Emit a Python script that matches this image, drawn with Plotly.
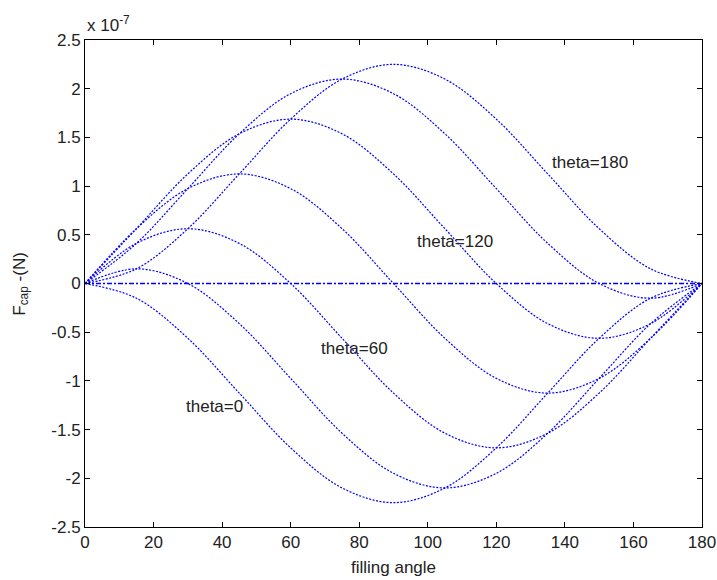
import plotly.graph_objects as go

phi = [0, 15, 30, 45, 60, 75, 90, 105, 120, 135, 150, 165, 180]

# F_cap values (units of 1e-7 N)
f_theta0   = [0, -0.151, -0.5625, -1.125, -1.6875, -2.099, -2.25, -2.099, -1.6875, -1.125, -0.5625, -0.151, 0]
f_theta30  = [0, 0.151, 0, -0.412, -0.974, -1.537, -1.949, -2.099, -1.949, -1.537, -0.974, -0.412, 0]
f_theta60  = [0, 0.412, 0.5625, 0.412, 0, -0.5625, -1.125, -1.537, -1.6875, -1.537, -1.125, -0.5625, 0]
f_theta90  = [0, 0.5625, 0.974, 1.125, 0.974, 0.5625, 0, -0.5625, -0.974, -1.125, -0.974, -0.5625, 0]
f_theta120 = [0, 0.5625, 1.125, 1.537, 1.6875, 1.537, 1.125, 0.5625, 0, -0.412, -0.5625, -0.412, 0]
f_theta150 = [0, 0.412, 0.974, 1.537, 1.949, 2.099, 1.949, 1.537, 0.974, 0.412, 0, -0.151, 0]
f_theta180 = [0, 0.151, 0.5625, 1.125, 1.6875, 2.099, 2.25, 2.099, 1.6875, 1.125, 0.5625, 0.151, 0]
f_zero     = [0] * 13

series = [f_theta0, f_theta30, f_theta60, f_theta90, f_theta120, f_theta150, f_theta180]

labels = ["theta=180", "theta=120", "theta=60", "theta=0"]
label_x = [135.7, 96.3, 68.3, 28.9]
label_y = [1.24, 0.43, -0.67, -1.26]

xticks = [0, 20, 40, 60, 80, 100, 120, 140, 160, 180]
yticks = [-2.5, -2, -1.5, -1, -0.5, 0, 0.5, 1, 1.5, 2, 2.5]

fig = go.Figure()
for s in series:
    fig.add_trace(go.Scatter(x=phi, y=s, mode="lines", line_shape="spline",
                             line=dict(color="#0000ff", width=1.2, dash="2px,1.5px"),
                             showlegend=False, hoverinfo="skip"))
fig.add_trace(go.Scatter(x=phi, y=f_zero, mode="lines",
                         line=dict(color="#0000ff", width=1.3, dash="5px,2px,2px,2px"),
                         showlegend=False, hoverinfo="skip"))

FAM = "Liberation Sans, Arial, sans-serif"
font = dict(family=FAM, size=17, color="#222222")

for t, x, y in zip(labels, label_x, label_y):
    fig.add_annotation(x=x, y=y, text=t, showarrow=False, xanchor="left", yanchor="middle",
                       font=font)

fig.add_annotation(xref="paper", yref="paper", x=0.0, y=1.0, text="x 10<sup>-7</sup>",
                   showarrow=False, xanchor="left", yanchor="bottom", yshift=3, font=font)

fig.add_annotation(xref="paper", yref="paper", x=0.5, y=-0.084, text="filling angle",
                   showarrow=False, xanchor="center", yanchor="middle", font=font)

fig.add_annotation(xref="paper", yref="paper", x=-0.105, y=0.5, text="F<sub>cap</sub> -(N)",
                   textangle=-90, showarrow=False, xanchor="center", yanchor="middle", font=font)

fig.update_layout(
    width=717, height=580,
    margin=dict(l=85, r=15, t=40, b=53, autoexpand=False),
    paper_bgcolor="white", plot_bgcolor="white",
    font=font,
    xaxis=dict(range=[0, 180], tickvals=xticks, ticks="inside", ticklen=5, tickcolor="black",
               showline=True, linecolor="black", linewidth=1, mirror="ticks",
               showgrid=False, zeroline=False, tickfont=font, automargin=False),
    yaxis=dict(range=[-2.5, 2.5], tickvals=yticks, ticktext=[f"{v:g}" for v in yticks],
               ticks="inside", ticklen=5, tickcolor="black",
               showline=True, linecolor="black", linewidth=1, mirror="ticks",
               showgrid=False, zeroline=False, tickfont=font, automargin=False),
)

fig.write_html("out.html")
